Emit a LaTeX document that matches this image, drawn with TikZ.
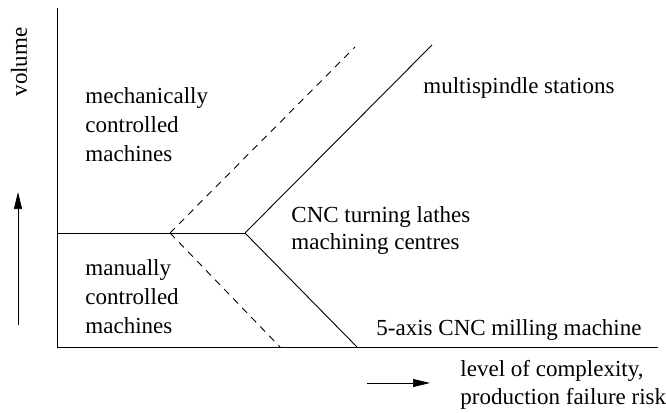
\documentclass[tikz,border=0pt]{standalone}
\usepackage{fontspec}
\setmainfont{Liberation Serif}
\usetikzlibrary{arrows.meta}
\begin{document}
\begin{tikzpicture}[x=1pt,y=-1pt,
  line width=0.9pt,
  % multi-line labels are placed by the baseline of their last line
  lbl/.style={anchor=base west,inner sep=0pt,align=left,
    font=\fontsize{23}{29}\selectfont},
  axisarrow/.style={-{Triangle[length=17pt,width=8pt]},line width=0.7pt},
  dashline/.style={dash pattern=on 7pt off 6pt}]
\useasboundingbox (0,0) rectangle (666,412);
% axes
\coordinate (ytop) at (57,8);
\coordinate (origin) at (57,347);
\coordinate (xend) at (658,347);
\draw (ytop) -- (origin) -- (xend);
% boundaries between the regions
\coordinate (hleft) at (57,233);
\coordinate (split) at (245,233);
\coordinate (dsplit) at (170,233);
\coordinate (up) at (432,45);
\coordinate (down) at (357,347);
\coordinate (dup) at (355,47);
\coordinate (ddown) at (280,347);
\draw (hleft) -- (split);
\draw (split) -- (up);
\draw (split) -- (down);
\draw[dashline] (dsplit) -- (dup);
\draw[dashline] (dsplit) -- (ddown);
% region labels
\node[lbl] (mech) at (85,161) {mechanically\\controlled\\machines};
\node[lbl] (multi) at (423,93) {multispindle stations};
\node[lbl,font=\fontsize{23}{27}\selectfont] (cnc) at (291,249) {CNC turning lathes\\machining centres};
\node[lbl] (manual) at (85,333) {manually\\controlled\\machines};
\node[lbl] (five) at (376,335) {5-axis CNC milling machine};
% axis captions
\node[lbl,rotate=90,anchor=base] (vol) at (27,62) {volume};
\coordinate (ya0) at (18,325);
\coordinate (ya1) at (18,192);
\draw[axisarrow] (ya0) -- (ya1);
\node[lbl,font=\fontsize{23}{28}\selectfont] (lev) at (460,404) {level of complexity,\\production failure risk};
\coordinate (xa0) at (367,383);
\coordinate (xa1) at (430,383);
\draw[axisarrow] (xa0) -- (xa1);
\end{tikzpicture}
\end{document}
